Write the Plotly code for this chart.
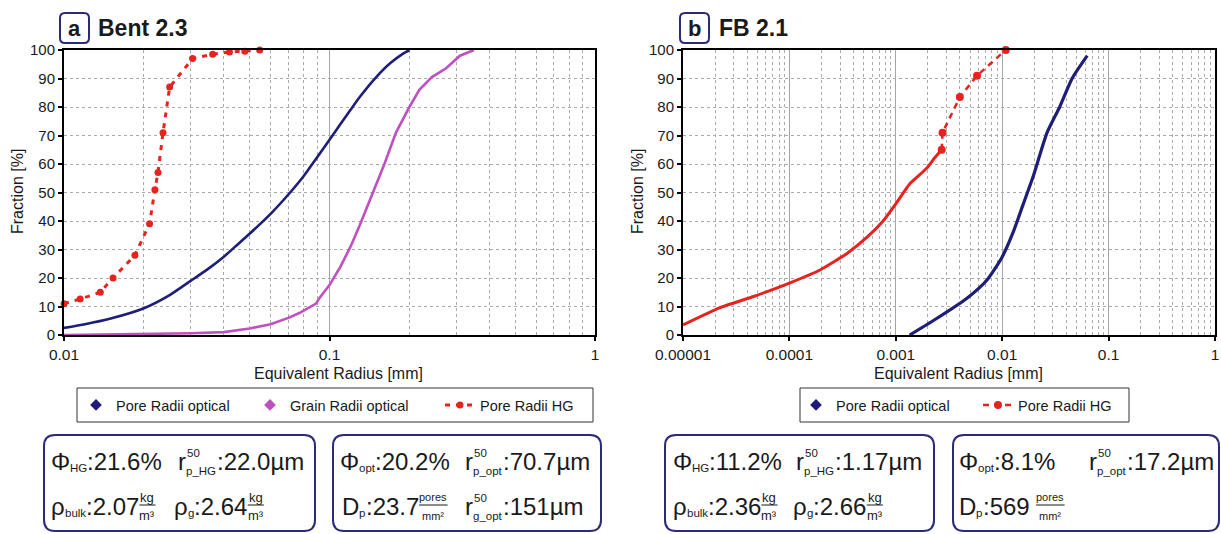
import math
import plotly.graph_objects as go

W, H = 1221, 534
OFF = 0
FONT = "Liberation Sans, Arial, sans-serif"
NAVY = "#1e1e78"
MAG = "#c050c0"
RED = "#e8231f"
BOXC = "#2b2b78"

# ---------------- data ----------------
# Panel a: Bent 2.3
a_opt_r = [0.01, 0.012, 0.015, 0.02, 0.025, 0.03, 0.035, 0.04, 0.045, 0.05, 0.06, 0.07,
           0.08, 0.09, 0.1, 0.11, 0.12, 0.13, 0.15, 0.17, 0.19, 0.2]
a_opt_f = [2.5, 3.8, 5.8, 9.4, 14, 19, 23.3, 27.5, 31.7, 35.5, 42.5, 49.3,
           55.8, 62.5, 68.5, 74, 79, 83.5, 90.5, 95.5, 98.8, 100]
a_grain_r = [0.01, 0.02, 0.03, 0.04, 0.05, 0.06, 0.07, 0.077, 0.089, 0.0917, 0.1, 0.11, 0.12,
             0.13, 0.14, 0.15, 0.161, 0.178, 0.2, 0.218, 0.243, 0.275, 0.31, 0.35]
a_grain_f = [0, 0.3, 0.6, 1.0, 2.3, 3.8, 6.0, 7.7, 11, 13, 17.5, 24, 31,
             38.5, 46, 53, 60, 71, 80, 86, 90.5, 93.6, 98, 100]
a_hg_r = [0.01, 0.0115, 0.0137, 0.0153, 0.0185, 0.021, 0.022, 0.0226, 0.0236, 0.025,
          0.0305, 0.0363, 0.042, 0.048, 0.0546]
a_hg_f = [11, 12.6, 15, 20, 28, 39, 51, 57, 71, 87,
          97, 98.5, 99.3, 99.6, 100]

# Panel b: FB 2.1
b_opt_r = [0.00135, 0.00224, 0.0047, 0.0072, 0.01, 0.0126, 0.0158, 0.0195, 0.0264,
           0.0347, 0.0454, 0.063]
b_opt_f = [0, 5, 13, 19.3, 27.4, 35.8, 46, 55.5, 71, 80, 90, 98]
b_hg_r = [1e-5, 2.2e-5, 4.6e-5, 1e-4, 1.94e-4, 3.5e-4, 5.4e-4, 7.6e-4, 1e-3, 1.35e-3,
          1.95e-3, 2.3e-3, 2.7e-3]
b_hg_f = [3.5, 9.5, 13.5, 18.2, 22.8, 28.7, 34.4, 40, 46, 53, 58.5, 62, 65]
b_hgd_r = [2.7e-3, 2.75e-3, 4.0e-3, 5.8e-3, 0.0108]
b_hgd_f = [65, 71, 83.5, 91, 100]

a_ticks = [0.01, 0.1, 1]
a_ticktext = ["0.01", "0.1", "1"]
b_ticks = [1e-5, 1e-4, 1e-3, 1e-2, 1e-1, 1]
b_ticktext = ["0.00001", "0.0001", "0.001", "0.01", "0.1", "1"]
y_ticks = list(range(0, 101, 10))

series_names = ["Pore Radii optical", "Grain Radii optical", "Pore Radii HG"]
titles = [("a", "Bent 2.3"), ("b", "FB 2.1")]
x_title = "Equivalent Radius [mm]"
y_title = "Fraction [%]"

# info boxes: rows of groups (start_x_px, tokens)
info_a_left = [
    [(50, [("t", "Φ"), ("s", "HG"), ("t", ":21.6%")]),
     (177, [("t", "r"), ("ss", "50", "p_HG"), ("t", ":22.0µm")])],
    [(50, [("t", "ρ"), ("s", "bulk"), ("t", ":2.07"), ("f", "kg", "m³")]),
     (173, [("t", "ρ"), ("s", "g"), ("t", ":2.64"), ("f", "kg", "m³")])],
]
info_a_right = [
    [(339, [("t", "Φ"), ("s", "opt"), ("t", ":20.2%")]),
     (464, [("t", "r"), ("ss", "50", "p_opt"), ("t", ":70.7µm")])],
    [(341, [("t", "D"), ("s", "p"), ("t", ":23.7"), ("f", "pores", "mm²")]),
     (464, [("t", "r"), ("ss", "50", "g_opt"), ("t", ":151µm")])],
]
info_b_left = [
    [(672, [("t", "Φ"), ("s", "HG"), ("t", ":11.2%")]),
     (795, [("t", "r"), ("ss", "50", "p_HG"), ("t", ":1.17µm")])],
    [(672, [("t", "ρ"), ("s", "bulk"), ("t", ":2.36"), ("f", "kg", "m³")]),
     (792, [("t", "ρ"), ("s", "g"), ("t", ":2.66"), ("f", "kg", "m³")])],
]
info_b_right = [
    [(958, [("t", "Φ"), ("s", "opt"), ("t", ":8.1%")]),
     (1088, [("t", "r"), ("ss", "50", "p_opt"), ("t", ":17.2µm")])],
    [(958, [("t", "D"), ("s", "p"), ("t", ":569 "), ("f", "pores", "mm²")])],
]


# ---------------- helpers ----------------
def PX(x):
    return (x - OFF) / W


def PY(y):
    return 1 - (y - OFF) / H


EMW = {'.': .278, ':': .278, '%': .889, 'µ': .576, 'm': .833, 'Φ': .78, 'ρ': .58,
       'r': .333, 'D': .722, 'H': .722, 'G': .778, 'p': .556, '_': .556, 'o': .556,
       't': .278, 'b': .556, 'u': .556, 'l': .222, 'k': .5, 'g': .556, 'e': .556,
       's': .5, ' ': .278, '²': .333, '³': .333}


def tw(s, size):
    return sum(EMW.get(c, .556) for c in s) * size


def rrect(x0, y0, x1, y1, r):
    p = [("M", x0 + r, y0), ("L", x1 - r, y0), ("Q", x1, y0, x1, y0 + r),
         ("L", x1, y1 - r), ("Q", x1, y1, x1 - r, y1), ("L", x0 + r, y1),
         ("Q", x0, y1, x0, y1 - r), ("L", x0, y0 + r), ("Q", x0, y0, x0 + r, y0)]
    out = []
    for seg in p:
        coords = seg[1:]
        pts = [f"{PX(coords[i]):.5f},{PY(coords[i + 1]):.5f}" for i in range(0, len(coords), 2)]
        out.append(seg[0] + " " + " ".join(pts))
    return " ".join(out) + " Z"


annotations = []
shapes = []


def T(x, y, text, size, anchor="left", bold=False, angle=0, color="#1a1a1a"):
    annotations.append(dict(
        x=PX(x), y=PY(y), xref="paper", yref="paper", text=(f"<b>{text}</b>" if bold else text),
        showarrow=False, xanchor=anchor, yanchor="middle", textangle=angle,
        font=dict(family=FONT, size=size, color=color), borderpad=0))


BIG, SUB = 24, 11.5
ROWY = [461, 506]


def draw_info(rows):
    for ri, row in enumerate(rows):
        yc = ROWY[ri]
        for x0, toks in row:
            x = x0
            for tok in toks:
                kind = tok[0]
                if kind == "t":
                    T(x, yc, tok[1], BIG)
                    x += tw(tok[1], BIG)
                elif kind == "s":
                    T(x, yc + 7, tok[1], SUB)
                    x += tw(tok[1], SUB)
                elif kind == "ss":
                    T(x + 1, yc - 8, tok[1], SUB)
                    T(x, yc + 10, tok[2], SUB)
                    x += max(tw(tok[1], SUB), tw(tok[2], SUB)) + 1
                elif kind == "f":
                    fr = 13 if tok[1] == "kg" else 11
                    w = max(tw(tok[1], fr), tw(tok[2], fr)) + 1
                    cx = x + w / 2 + 1
                    T(cx, yc - 9, tok[1], fr, anchor="center")
                    T(cx, yc + 9.5, tok[2], fr, anchor="center")
                    shapes.append(dict(type="line", xref="paper", yref="paper",
                                       x0=PX(cx - w / 2), x1=PX(cx + w / 2),
                                       y0=PY(yc - 1), y1=PY(yc - 1),
                                       line=dict(color="#1a1a1a", width=1)))
                    x += w + 2


# ---------------- figure ----------------
fig = go.Figure()

# panel a (legend items each in their own legend so they can be spaced like the original)
fig.add_trace(go.Scatter(x=[None], y=[None], mode="markers", name=series_names[0],
                         marker=dict(symbol="diamond", size=9, color=NAVY),
                         legend="legend", xaxis="x", yaxis="y"))
fig.add_trace(go.Scatter(x=[None], y=[None], mode="markers", name=series_names[1],
                         marker=dict(symbol="diamond", size=9, color=MAG),
                         legend="legend2", xaxis="x", yaxis="y"))
fig.add_trace(go.Scatter(x=a_hg_r, y=a_hg_f, mode="lines+markers", name=series_names[2],
                         line=dict(color=RED, width=3, dash="5px,6px"),
                         marker=dict(symbol="circle", size=7, color=RED),
                         cliponaxis=False, legend="legend3", xaxis="x", yaxis="y"))
fig.add_trace(go.Scatter(x=a_opt_r, y=a_opt_f, mode="lines", showlegend=False,
                         line=dict(color=NAVY, width=2.6, shape="spline", smoothing=0.6),
                         xaxis="x", yaxis="y"))
fig.add_trace(go.Scatter(x=a_grain_r, y=a_grain_f, mode="lines", showlegend=False,
                         line=dict(color=MAG, width=2.6), xaxis="x", yaxis="y"))

# panel b
fig.add_trace(go.Scatter(x=[None], y=[None], mode="markers", name=series_names[0],
                         marker=dict(symbol="diamond", size=9, color=NAVY),
                         legend="legend4", xaxis="x2", yaxis="y2"))
fig.add_trace(go.Scatter(x=b_hgd_r, y=b_hgd_f, mode="lines+markers", name=series_names[2],
                         line=dict(color=RED, width=2.5, dash="6px,5px"),
                         marker=dict(symbol="circle", size=8, color=RED),
                         cliponaxis=False, legend="legend5", xaxis="x2", yaxis="y2"))
fig.add_trace(go.Scatter(x=b_hg_r, y=b_hg_f, mode="lines", showlegend=False,
                         line=dict(color=RED, width=3, shape="spline", smoothing=0.5),
                         xaxis="x2", yaxis="y2"))
fig.add_trace(go.Scatter(x=b_opt_r, y=b_opt_f, mode="lines", showlegend=False,
                         line=dict(color=NAVY, width=3.2, shape="spline", smoothing=0.6),
                         xaxis="x2", yaxis="y2"))


def minor_vals(ticks):
    return [m * d for d in ticks[:-1] for m in range(2, 10)]


def xcfg(x0, x1, ticks, ttext, anchor):
    return dict(type="log", domain=[PX(x0), PX(x1)],
                range=[round(math.log10(ticks[0])), round(math.log10(ticks[-1]))],
                tickmode="array", tickvals=ticks, ticktext=ttext,
                showgrid=True, gridcolor="#a6a6a6", gridwidth=1,
                minor=dict(tickvals=minor_vals(ticks), showgrid=True, gridcolor="#ababab",
                           griddash="dot", gridwidth=1, ticks=""),
                showline=True, linecolor="black", linewidth=2, mirror=True,
                ticks="outside", ticklen=4, tickwidth=1.5, tickcolor="black",
                tickfont=dict(family=FONT, size=15.5, color="#1a1a1a"),
                zeroline=False, automargin=False, anchor=anchor, fixedrange=True)


def ycfg(anchor):
    return dict(domain=[PY(335), PY(50)], range=[0, 100], tickmode="array", tickvals=y_ticks,
                showgrid=True, gridcolor="#ababab", griddash="dot", gridwidth=1,
                showline=True, linecolor="black", linewidth=2, mirror=True,
                ticks="outside", ticklen=4, tickwidth=1.5, tickcolor="black",
                tickfont=dict(family=FONT, size=15, color="#1a1a1a"),
                zeroline=False, automargin=False, anchor=anchor, fixedrange=True)


# titles
for (letter, name), (bx0, tx) in zip(titles, [(60, 97), (680, 718)]):
    shapes.append(dict(type="path", xref="paper", yref="paper", path=rrect(bx0, 13, bx0 + 29, 43, 5),
                       line=dict(color=BOXC, width=2)))
    T(bx0 + 14.5, 28, letter, 22, anchor="center", bold=True)
    T(tx, 28, name, 23, bold=True)

# axis titles
T(338, 373, x_title, 16, anchor="center")
T(958, 373, x_title, 16, anchor="center")
T(17, 192, y_title, 16, anchor="center", angle=-90)
T(637, 192, y_title, 16, anchor="center", angle=-90)

# legend frames
for (lx0, lx1) in [(77, 593), (800, 1129)]:
    shapes.append(dict(type="rect", xref="paper", yref="paper", x0=PX(lx0), x1=PX(lx1),
                       y0=PY(422), y1=PY(388), line=dict(color="#333", width=1)))

# info boxes
for (bx0, bx1) in [(44, 315), (333, 601), (665, 934), (953, 1219)]:
    shapes.append(dict(type="path", xref="paper", yref="paper", path=rrect(bx0, 435, bx1, 531, 11),
                       line=dict(color=BOXC, width=2)))
for rows in [info_a_left, info_a_right, info_b_left, info_b_right]:
    draw_info(rows)


def leg(xpx):
    return dict(orientation="h", xanchor="left", yanchor="middle", x=PX(xpx), y=PY(405),
                borderwidth=0, bgcolor="rgba(0,0,0,0)",
                font=dict(family=FONT, size=14.5, color="#1a1a1a"),
                itemclick=False, itemdoubleclick=False)


fig.update_layout(
    width=W, height=H, autosize=False,
    margin=dict(l=0, r=0, t=0, b=0),
    paper_bgcolor="white", plot_bgcolor="white",
    showlegend=True,
    xaxis=xcfg(64, 595, a_ticks, a_ticktext, "y"),
    yaxis=ycfg("x"),
    xaxis2=xcfg(683, 1215, b_ticks, b_ticktext, "y2"),
    yaxis2=ycfg("x2"),
    legend=leg(76), legend2=leg(250), legend3=leg(440),
    legend4=leg(796), legend5=leg(978),
    annotations=annotations,
    shapes=shapes,
)

fig.write_html(
    "out.html",
    config={"displayModeBar": False},
    post_script="document.body.style.margin='0px';"
                "document.documentElement.style.overflow='hidden';"
                "document.body.style.overflow='hidden';",
)
